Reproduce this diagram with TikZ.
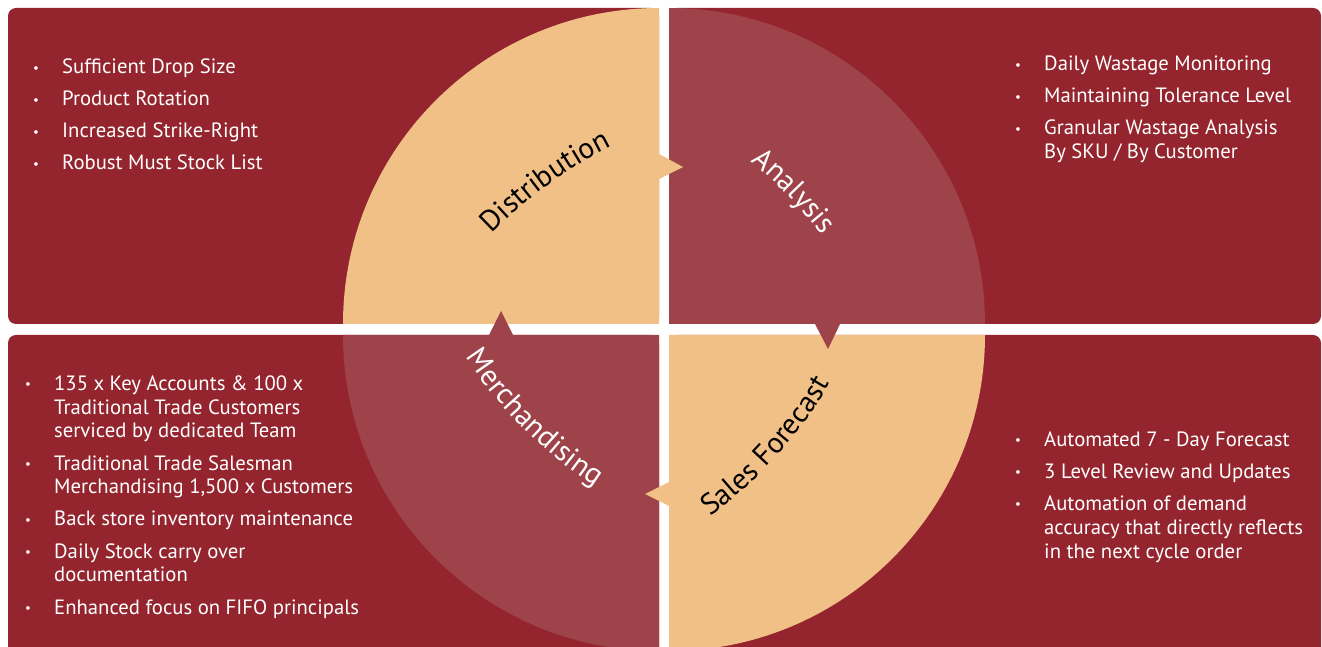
\documentclass[tikz,border=0pt]{standalone}
\usepackage{fontspec}
\setmainfont{PT Sans}
\usetikzlibrary{decorations.text}

\definecolor{wine}{RGB}{148,37,46}
\definecolor{sand}{RGB}{240,192,135}
\definecolor{rose}{RGB}{158,67,73}

\newcommand{\stagefont}{\fontsize{29.5}{29.5}\selectfont}
\newcommand{\dotmark}{\raisebox{1.5pt}{\fontsize{13}{13}\selectfont\textbullet}}

\begin{document}
\begin{tikzpicture}[
    x=1pt, y=1pt,
    panel/.style={fill=wine, rounded corners=8pt},
    note/.style={anchor=base west, inner sep=0pt, text=white, font=\fontsize{20.7}{24}\selectfont, align=left},
    stage/.style={decorate, decoration={text along path, text align=center, text={#1}}}
  ]
    \useasboundingbox (0,0) rectangle (1322,646);
    \clip (0,0) rectangle (1322,646);

    % four panels
    \fill[panel] (8,322) rectangle (659,638);
    \fill[panel] (669,322) rectangle (1321,638);
    \fill[panel] (8,-20) rectangle (659,311);
    \fill[panel] (669,-20) rectangle (1321,311);

    % quarter circles
    \fill[sand] (659,322) -- ++(-316,0) arc[start angle=180, end angle=90, radius=316] -- cycle;
    \fill[rose] (669,322) -- ++(0,316) arc[start angle=90, end angle=0, radius=316] -- cycle;
    \fill[sand] (669,311) -- ++(316,0) arc[start angle=0, end angle=-90, radius=316] -- cycle;
    \fill[rose] (659,311) -- ++(0,-316) arc[start angle=270, end angle=180, radius=316] -- cycle;

    % pointers between the quarters
    \fill[sand] (659,492) -- (683,479) -- (659,467) -- cycle;
    \fill[rose] (815,322) -- (828,297) -- (840,322) -- cycle;
    \fill[sand] (669,164) -- (645,152) -- (669,140) -- cycle;
    \fill[rose] (489,311) -- (501,335) -- (513,311) -- cycle;

    % curved stage names
    \path[stage={|\stagefont\color{black}|Distribution}]
      (812.6,97) ++(146:450) arc[start angle=146, end angle=106, radius=450];
    \path[stage={|\stagefont\color{white}|Analysis}]
      (465,137) ++(64:450) arc[start angle=64, end angle=24, radius=450];
    \path[stage={|\stagefont\color{black}|Sales Forecast}]
      (442.3,491) ++(-62:450) arc[start angle=-62, end angle=-22, radius=450];
    \path[stage={|\stagefont\color{white}|Merchandising}]
      (841.8,535.8) ++(205:450) arc[start angle=205, end angle=245, radius=450];

    % bullet lists
    \node[note] (distnotes) at (33,572) {\begin{tabular}[t]{@{}p{29pt}@{}l@{}}
      \dotmark & Sufficient Drop Size\\[8pt]
      \dotmark & Product Rotation\\[8pt]
      \dotmark & Increased Strike-Right\\[8pt]
      \dotmark & Robust Must Stock List
    \end{tabular}};
    \node[note] (analnotes) at (1015,575) {\begin{tabular}[t]{@{}p{29pt}@{}l@{}}
      \dotmark & Daily Wastage Monitoring\\[8pt]
      \dotmark & Maintaining Tolerance Level\\[8pt]
      \dotmark & Granular Wastage Analysis\\
               & By SKU / By Customer
    \end{tabular}};
    \node[note] (merchnotes) at (25,256) {\begin{tabular}[t]{@{}p{29pt}@{}l@{}}
      \dotmark & 135 x Key Accounts \& 100 x\\
               & Traditional Trade Customers\\
               & serviced by dedicated Team\\[8pt]
      \dotmark & Traditional Trade Salesman\\
               & Merchandising 1,500 x Customers\\[8pt]
      \dotmark & Back store inventory maintenance\\[8pt]
      \dotmark & Daily Stock carry over\\
               & documentation\\[8pt]
      \dotmark & Enhanced focus on FIFO principals
    \end{tabular}};
    \node[note] (salesnotes) at (1015,200) {\begin{tabular}[t]{@{}p{29pt}@{}l@{}}
      \dotmark & Automated 7 - Day Forecast\\[8pt]
      \dotmark & 3 Level Review and Updates\\[8pt]
      \dotmark & Automation of demand\\
               & accuracy that directly reflects\\
               & in the next cycle order
    \end{tabular}};
\end{tikzpicture}
\end{document}
